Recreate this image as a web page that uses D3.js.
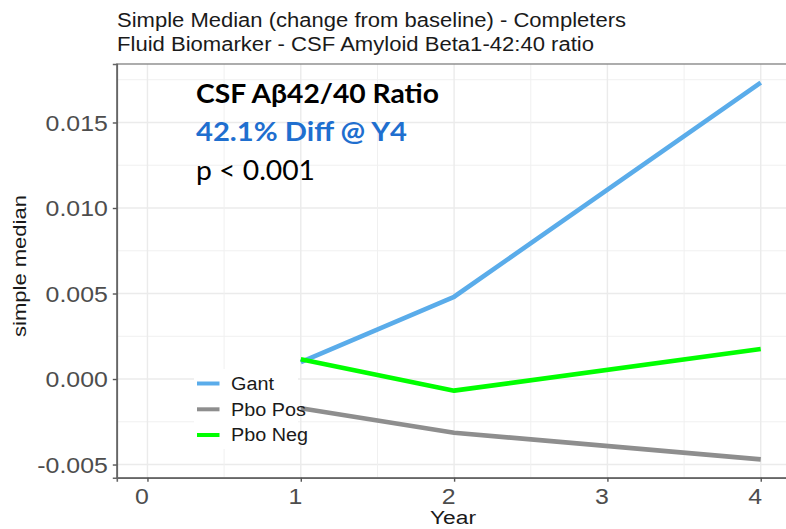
<!DOCTYPE html>
<html>
<head>
<meta charset="utf-8">
<script src="https://cdn.jsdelivr.net/npm/d3@7"></script>
<style>
  html, body { margin: 0; padding: 0; background: #fff; }
  svg { display: block; }
</style>
</head>
<body>
<svg id="chart" width="786" height="529"></svg>
<script>
// ---- data ----
const years = [1, 2, 4];
const gant = [0.00099, 0.00481, 0.01733];
const pboPos = [-0.00171, -0.00314, -0.00470];
const pboNeg = [0.00115, -0.00068, 0.00175];
const seriesNames = ["Gant", "Pbo Pos", "Pbo Neg"];
const seriesColors = ["#5aacea", "#8e8e8e", "#00ff00"];
const xTicks = [0, 1, 2, 3, 4];
const yTicks = [-0.005, 0.000, 0.005, 0.010, 0.015];
const titleLines = ["Simple Median (change from baseline) - Completers",
                    "Fluid Biomarker - CSF Amyloid Beta1-42:40 ratio"];
const noteLines = ["CSF Aβ42/40 Ratio", "42.1% Diff @ Y4", "p < 0.001"];

const series = [gant, pboPos, pboNeg].map((vals, i) => ({
  name: seriesNames[i], color: seriesColors[i],
  points: years.map((y, j) => ({ x: y, v: vals[j] }))
}));

const svg = d3.select("#chart");
const panel = { left: 116.8, right: 791.4, top: 64, bottom: 477.7 };

const x = d3.scaleLinear().domain([-0.2, 4.2]).range([panel.left, panel.right]);
const y = d3.scaleLinear().domain([-0.00577, 0.01842]).range([panel.bottom, panel.top]);

// stretch a text element horizontally to a given width
function fitWidth(sel, w) {
  sel.attr("textLength", w).attr("lengthAdjust", "spacingAndGlyphs");
}
function stretch(sel, k) {
  sel.each(function () {
    const len = this.getComputedTextLength();
    d3.select(this).attr("textLength", len * k).attr("lengthAdjust", "spacingAndGlyphs");
  });
}

// ---- panel background & grid ----
svg.append("rect").attr("x", panel.left).attr("y", panel.top)
  .attr("width", panel.right - panel.left).attr("height", panel.bottom - panel.top)
  .attr("fill", "#fff");

const yMinor = d3.range(-0.0075, 0.0176, 0.005).filter(v => y(v) > panel.top && y(v) < panel.bottom);
const xMinor = [-0.5, 0.5, 1.5, 2.5, 3.5].filter(v => x(v) > panel.left);

const grid = svg.append("g");
grid.selectAll(".ymin").data(yMinor).join("line")
  .attr("x1", panel.left).attr("x2", panel.right)
  .attr("y1", d => y(d)).attr("y2", d => y(d))
  .attr("stroke", "#f0f0f0").attr("stroke-width", 1);
grid.selectAll(".ymaj").data(yTicks).join("line")
  .attr("x1", panel.left).attr("x2", panel.right)
  .attr("y1", d => y(d)).attr("y2", d => y(d))
  .attr("stroke", "#ebebeb").attr("stroke-width", 1.4);

// legend backdrop hides the horizontal grid behind the keys
svg.append("rect").attr("x", 194).attr("y", 369).attr("width", 104).attr("height", 80)
  .attr("fill", "#fff");

grid.append("g").selectAll("line").data(xMinor).join("line")
  .attr("y1", panel.top).attr("y2", panel.bottom)
  .attr("x1", d => x(d)).attr("x2", d => x(d))
  .attr("stroke", "#f0f0f0").attr("stroke-width", 1);
svg.append("g").selectAll("line").data(xTicks).join("line")
  .attr("y1", panel.top).attr("y2", panel.bottom)
  .attr("x1", d => x(d)).attr("x2", d => x(d))
  .attr("stroke", "#ebebeb").attr("stroke-width", 1.4);

// ---- series lines ----
const line = d3.line().x(d => x(d.x)).y(d => y(d.v));
svg.append("g").selectAll("path").data(series).join("path")
  .attr("d", d => line(d.points))
  .attr("fill", "none")
  .attr("stroke", d => d.color)
  .attr("stroke-width", 4.6)
  .attr("stroke-linejoin", "round");

// ---- panel border ----
svg.append("rect").attr("x", panel.left).attr("y", panel.top)
  .attr("width", panel.right - panel.left).attr("height", panel.bottom - panel.top)
  .attr("fill", "none").attr("stroke", "#8a8a8a").attr("stroke-width", 1.4);

// ---- axes ----
const fmtY = v => d3.format(".3f")(v).replace("\u2212", "-");
const yAxis = svg.append("g").attr("transform", `translate(${panel.left},0)`)
  .call(d3.axisLeft(y).tickValues(yTicks).tickFormat(fmtY).tickSize(4).tickPadding(5));
const xAxis = svg.append("g").attr("transform", `translate(0,${panel.bottom})`)
  .call(d3.axisBottom(x).tickValues(xTicks).tickFormat(d3.format("d")).tickSize(4).tickPadding(6));

[yAxis, xAxis].forEach(ax => {
  ax.select(".domain").attr("stroke", "#666").attr("stroke-width", 1.6);
  ax.selectAll(".tick line").attr("stroke", "#555").attr("stroke-width", 1.4);
  ax.selectAll(".tick text")
    .attr("fill", "#4d4d4d")
    .style("font-family", "'Liberation Sans', Arial, sans-serif")
    .style("font-size", "22px");
});
yAxis.selectAll(".tick text").attr("dy", "0.36em").call(stretch, 1.13);
xAxis.selectAll(".tick text").attr("dx", -6).attr("dy", "0.74em").call(stretch, 1.13);

// axis titles
svg.append("text")
  .attr("transform", "translate(26,266) rotate(-90)")
  .attr("text-anchor", "middle")
  .style("font-family", "'Liberation Sans', Arial, sans-serif")
  .style("font-size", "19px").attr("fill", "#1a1a1a")
  .text("simple median").call(fitWidth, 142);

svg.append("text")
  .attr("x", 453).attr("y", 524)
  .attr("text-anchor", "middle")
  .style("font-family", "'Liberation Sans', Arial, sans-serif")
  .style("font-size", "18px").attr("fill", "#1a1a1a")
  .text("Year").call(fitWidth, 46);

// ---- title ----
const titleWidths = [509, 477];
svg.append("g").selectAll("text").data(titleLines).join("text")
  .attr("x", 117).attr("y", (d, i) => 27 + i * 24)
  .style("font-family", "'Liberation Sans', Arial, sans-serif")
  .style("font-size", "20px").attr("fill", "#1a1a1a")
  .text(d => d)
  .each(function (d, i) { d3.select(this).call(fitWidth, titleWidths[i]); });

// ---- annotation ----
const noteY = [103, 141, 180];
const noteW = [243, 211, 119];
const noteColor = ["#000000", "#1f6fcf", "#000000"];
const noteWeight = ["bold", "bold", "normal"];
svg.append("g").selectAll("text").data(noteLines).join("text")
  .attr("x", 196).attr("y", (d, i) => noteY[i])
  .style("font-family", "Lato, 'Open Sans', sans-serif")
  .style("font-size", "26px")
  .style("font-weight", (d, i) => noteWeight[i])
  .attr("fill", (d, i) => noteColor[i])
  .text(d => d)
  .each(function (d, i) { d3.select(this).call(fitWidth, noteW[i]); });

// ---- legend ----
const legY = [383.5, 409.3, 435];
const leg = svg.append("g");
leg.selectAll("line").data(series).join("line")
  .attr("x1", 197).attr("x2", 219.5)
  .attr("y1", (d, i) => legY[i]).attr("y2", (d, i) => legY[i])
  .attr("stroke", d => d.color).attr("stroke-width", 4);
leg.selectAll("text").data(series).join("text")
  .attr("x", 231).attr("y", (d, i) => legY[i])
  .attr("dy", "0.36em")
  .style("font-family", "'Liberation Sans', Arial, sans-serif")
  .style("font-size", "18px").attr("fill", "#1a1a1a")
  .text(d => d.name)
  .call(stretch, 1.1);
</script>
</body>
</html>
